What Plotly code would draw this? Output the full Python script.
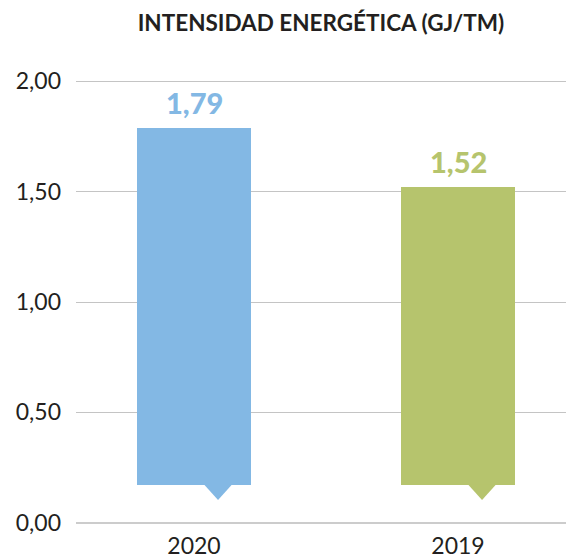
import plotly.graph_objects as go

# Energy intensity, GJ per metric tonne
years = ["2020", "2019"]
intensity = [1.79, 1.52]
bar_colors = ["#83b8e4", "#b6c46d"]

y_tick_vals = [0.0, 0.5, 1.0, 1.5, 2.0]
y_tick_text = ["0,00", "0,50", "1,00", "1,50", "2,00"]

# Bar styling (bars float above the axis with a small pointer underneath)
BAR_BASE = 0.17
BAR_WIDTH = 0.432
POINTER_TIP = 0.103
POINTER_OFFSET = 0.091
POINTER_HALF = 0.053

TEXT = "#231f20"
FONT = "Lato"

positions = list(range(len(years)))

fig = go.Figure()

fig.add_trace(go.Bar(
    x=positions,
    y=[v - BAR_BASE for v in intensity],
    base=BAR_BASE,
    width=BAR_WIDTH,
    marker=dict(color=bar_colors, line=dict(width=0)),
    hoverinfo="skip",
    showlegend=False,
))

# Small downward pointers below each bar
for i, color in zip(positions, bar_colors):
    cx = i + POINTER_OFFSET
    fig.add_trace(go.Scatter(
        x=[cx - POINTER_HALF, cx + POINTER_HALF, cx, cx - POINTER_HALF],
        y=[BAR_BASE + 0.003, BAR_BASE + 0.003, POINTER_TIP, BAR_BASE + 0.003],
        mode="lines",
        fill="toself",
        fillcolor=color,
        line=dict(width=0, color=color),
        hoverinfo="skip",
        showlegend=False,
    ))

# Value labels above bars
for i, v, color in zip(positions, intensity, bar_colors):
    fig.add_annotation(
        x=i, y=v, xref="x", yref="y",
        text=f"{v:.2f}".replace(".", ","),
        showarrow=False,
        yanchor="bottom",
        yshift=6,
        font=dict(family=FONT, size=29, color=color, weight=900),
    )

fig.update_layout(
    width=566,
    height=560,
    margin=dict(l=76, r=0, t=79, b=35, autoexpand=False),
    paper_bgcolor="white",
    plot_bgcolor="white",
    bargap=0,
    title=dict(
        text="INTENSIDAD ENERGÉTICA (GJ/TM)",
        x=0.5, xref="paper", xanchor="center",
        y=1 - 23.5 / 560, yref="container", yanchor="middle",
        font=dict(family=FONT, size=22.5, color=TEXT, weight=700),
    ),
    xaxis=dict(
        range=[-0.447, 1.409],
        tickvals=positions,
        ticktext=years,
        showgrid=False,
        zeroline=False,
        showline=False,
        ticks="",
        automargin=False,
        ticklabelstandoff=5,
        tickfont=dict(family=FONT, size=23, color=TEXT),
        fixedrange=True,
    ),
    yaxis=dict(
        range=[-0.01, 2.01],
        tickvals=y_tick_vals,
        ticktext=y_tick_text,
        showgrid=True,
        gridcolor="#c4c4c4",
        gridwidth=1,
        zeroline=True,
        zerolinecolor="#cccccc",
        zerolinewidth=2,
        showline=False,
        ticks="",
        automargin=False,
        ticklabelstandoff=14,
        tickfont=dict(family=FONT, size=23, color=TEXT),
        fixedrange=True,
    ),
)

fig.write_html("out.html")
